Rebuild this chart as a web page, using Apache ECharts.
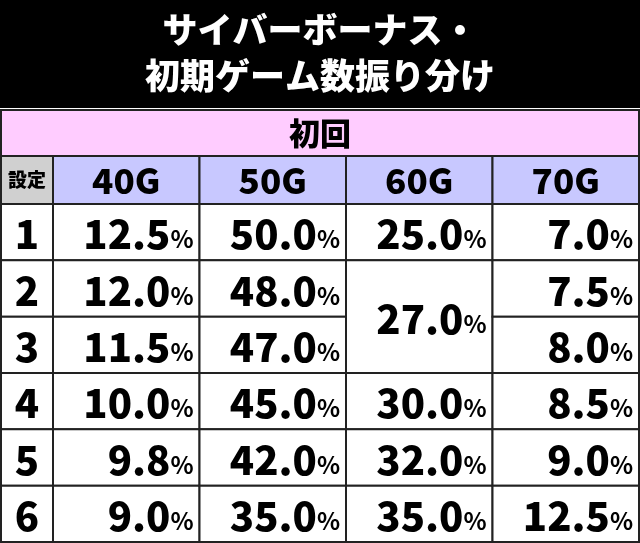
<!DOCTYPE html>
<html><head><meta charset="utf-8">
<script src="https://cdn.jsdelivr.net/npm/echarts@6/dist/echarts.min.js"></script>
<style>html,body{margin:0;padding:0;background:#fff}#c{width:640px;height:543px}</style>
</head><body><div id="c"></div>
<script>
const settings = ['1','2','3','4','5','6'];
const columns = ['40G','50G','60G','70G'];
const g40 = [12.5, 12.0, 11.5, 10.0, 9.8, 9.0];
const g50 = [50.0, 48.0, 47.0, 45.0, 42.0, 35.0];
const g60 = [25.0, 27.0, 27.0, 30.0, 32.0, 35.0];
const g70 = [7.0, 7.5, 8.0, 8.5, 9.0, 12.5];
const g60Span = [1, 2, 0, 1, 1, 1];
const titleLines = 'サイバーボーナス・\n初期ゲーム数振り分け';
const groupLabel = '初回';
const cornerLabel = '設定';

const FONT = '"Noto Sans CJK JP", sans-serif';
const cols = [g40, g50, g60, g70];
const cells = [];
cols.forEach((arr, ci) => arr.forEach((v, ri) => {
  const span = ci === 2 ? g60Span[ri] : 1;
  if (span > 0) cells.push([ci, ri, v, span]);
}));

function cellRect(api, x, y, span) {
  const c = api.coord([x, y]); const s = api.size([1, 1]);
  return {x: c[0] - s[0]/2, y: c[1] - s[1]/2, w: s[0], h: s[1]*span};
}
const border = {stroke: '#222', lineWidth: 2};

const chart = echarts.init(document.getElementById('c'));
chart.setOption({
  animation: false,
  title: {text: titleLines, left: 'center', top: 2,
    textStyle: {color: '#fff', fontFamily: FONT, fontWeight: 900, fontSize: 35, lineHeight: 46}},
  graphic: [
    {type: 'rect', z: -10, shape: {x: 0, y: 0, width: 640, height: 108}, style: {fill: '#000'}},
    {type: 'rect', z: -5, shape: {x: 1, y: 110, width: 638, height: 46}, style: {fill: '#ffccff', stroke: '#222', lineWidth: 2}},
    {type: 'text', z: 5, x: 320, y: 133, style: {text: groupLabel, fill: '#000', font: '900 31px ' + FONT, align: 'center', verticalAlign: 'middle'}}
  ],
  grid: [
    {left: 53, right: 1, top: 156, height: 48},
    {left: 1, width: 52, top: 156, height: 48},
    {left: 53, right: 1, top: 204, bottom: 1},
    {left: 1, width: 52, top: 204, bottom: 1}
  ],
  xAxis: [
    {gridIndex: 0, type: 'category', data: columns, show: false},
    {gridIndex: 1, type: 'category', data: [cornerLabel], show: false},
    {gridIndex: 2, type: 'category', data: columns, show: false},
    {gridIndex: 3, type: 'category', data: ['s'], show: false}
  ],
  yAxis: [
    {gridIndex: 0, type: 'category', data: ['h'], show: false},
    {gridIndex: 1, type: 'category', data: ['h'], show: false},
    {gridIndex: 2, type: 'category', data: settings, inverse: true, show: false},
    {gridIndex: 3, type: 'category', data: settings, inverse: true, show: false}
  ],
  series: [
    {type: 'custom', xAxisIndex: 0, yAxisIndex: 0, data: columns.map((c, i) => [i, 0]),
     renderItem: (p, api) => { const r = cellRect(api, api.value(0), 0, 1);
       return {type: 'group', children: [
         {type: 'rect', shape: {x: r.x, y: r.y, width: r.w, height: r.h}, style: Object.assign({fill: '#c8c8ff'}, border)},
         {type: 'text', x: r.x + r.w/2, y: r.y + r.h/2 + 1, style: {text: columns[api.value(0)], fill: '#000', font: '900 35px ' + FONT, align: 'center', verticalAlign: 'middle'}}]}; }},
    {type: 'custom', xAxisIndex: 1, yAxisIndex: 1, data: [[0, 0]],
     renderItem: (p, api) => { const r = cellRect(api, 0, 0, 1);
       return {type: 'group', children: [
         {type: 'rect', shape: {x: r.x, y: r.y, width: r.w, height: r.h}, style: Object.assign({fill: '#d0d0d0'}, border)},
         {type: 'text', x: r.x + r.w/2, y: r.y + r.h/2, style: {text: cornerLabel, fill: '#000', font: '900 19px ' + FONT, align: 'center', verticalAlign: 'middle'}}]}; }},
    {type: 'custom', xAxisIndex: 2, yAxisIndex: 2, data: cells,
     renderItem: (p, api) => { const span = api.value(3); const r = cellRect(api, api.value(0), api.value(1), span);
       return {type: 'group', children: [
         {type: 'rect', shape: {x: r.x, y: r.y, width: r.w, height: r.h}, style: Object.assign({fill: '#fff'}, border)},
         {type: 'text', x: r.x + r.w - 6, y: r.y + r.h/2 + 2, style: {text: '{n|' + api.value(2).toFixed(1) + '}{p|%}', align: 'right', verticalAlign: 'middle',
           rich: {n: {fontFamily: FONT, fontWeight: 900, fontSize: 40, fill: '#000', verticalAlign: 'bottom'}, p: {fontFamily: FONT, fontWeight: 'bold', fontSize: 24, fill: '#000', verticalAlign: 'bottom', padding: [0,0,3,0]}}}}]}; }},
    {type: 'custom', xAxisIndex: 3, yAxisIndex: 3, data: settings.map((s, i) => [0, i]),
     renderItem: (p, api) => { const r = cellRect(api, 0, api.value(1), 1);
       return {type: 'group', children: [
         {type: 'rect', shape: {x: r.x, y: r.y, width: r.w, height: r.h}, style: Object.assign({fill: '#fff'}, border)},
         {type: 'text', x: r.x + r.w/2, y: r.y + r.h/2 + 2, style: {text: settings[api.value(1)], fill: '#000', font: '900 40px ' + FONT, align: 'center', verticalAlign: 'middle'}}]}; }}
  ]
});
</script></body></html>
